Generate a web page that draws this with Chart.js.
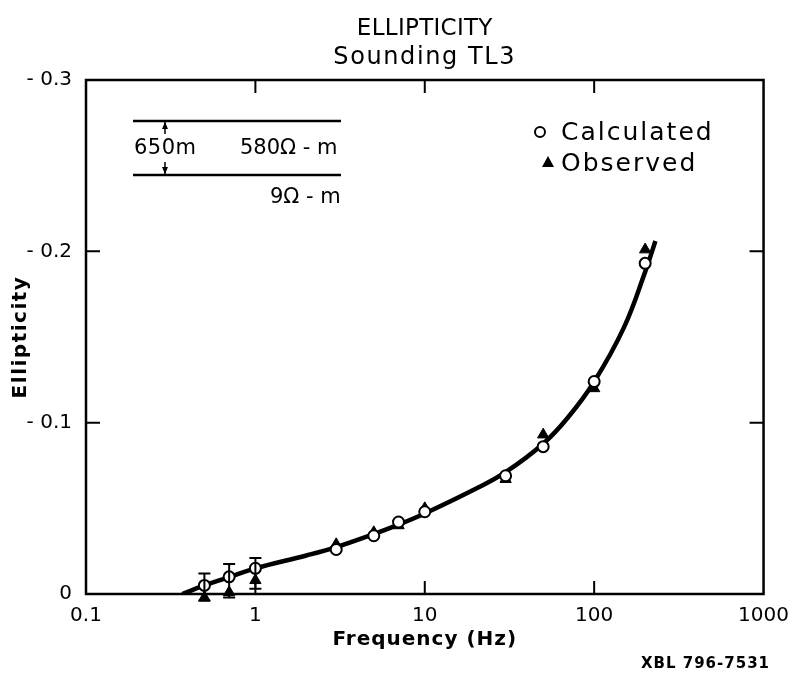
<!DOCTYPE html>
<html>
<head>
<meta charset="utf-8">
<script src="https://cdn.jsdelivr.net/npm/chart.js@4.4.1/dist/chart.umd.min.js"></script>
<style>
  html, body { margin: 0; padding: 0; background: #fff; }
  #wrap { width: 799px; height: 675px; }
</style>
</head>
<body>
<div id="wrap"><canvas id="chart" width="799" height="675"></canvas></div>
<script>
// frequencies in Hz, ellipticity values are negative (axis runs 0 .. -0.3 upward)
var freqs        = [0.5, 0.7, 1, 3, 5, 7, 10, 30, 50, 100, 200];
var calculated   = [-0.005, -0.010, -0.015, -0.026, -0.034, -0.042, -0.048, -0.069, -0.086, -0.124, -0.193];
var observed     = [0.002, -0.001, -0.008, -0.029, -0.036, -0.040, -0.050, -0.067, -0.093, -0.120, -0.201];

// error bars at the low frequencies
var errFreqs     = [0.5, 0.7, 1];
var errTop       = [-0.012, -0.0175, -0.021];
var errBottom    = [0.004, 0.002, -0.003];

// model curve
var curveFreqs   = [0.37, 0.5, 0.7, 1, 2, 3, 5, 7, 10, 20, 30, 50, 70, 100, 150, 200, 230];
var curveValues  = [0, -0.005, -0.0098, -0.015, -0.0225, -0.0274, -0.035, -0.0405, -0.047, -0.0614, -0.0711, -0.0877, -0.103, -0.1239, -0.1556, -0.188, -0.206];

var xTicks = [0.1, 1, 10, 100, 1000];
var yTicks = [0, -0.1, -0.2, -0.3];

var FONT = '"DejaVu Sans", "Liberation Sans", sans-serif';

function pts(xs, ys) {
  return xs.map(function(x, i) { return { x: x, y: ys[i] }; });
}

function spaced(c, text, x, y, spacing) {
  c.letterSpacing = spacing + 'px';
  c.fillText(text, x, y);
  c.letterSpacing = '0px';
}

var framePlugin = {
  id: 'frame',
  afterDatasetsDraw: function(chart) {
    var c = chart.ctx, a = chart.chartArea;
    var xs = chart.scales.x, ys = chart.scales.y;
    c.save();
    c.strokeStyle = '#000';
    c.lineWidth = 2.5;
    c.strokeRect(a.left, a.top, a.right - a.left, a.bottom - a.top);

    // inward ticks
    c.lineWidth = 2;
    xTicks.slice(1, -1).forEach(function(v) {
      var px = xs.getPixelForValue(v);
      c.beginPath();
      c.moveTo(px, a.top); c.lineTo(px, a.top + 13);
      c.moveTo(px, a.bottom); c.lineTo(px, a.bottom - 13);
      c.stroke();
    });
    yTicks.slice(1, -1).forEach(function(v) {
      var py = ys.getPixelForValue(v);
      c.beginPath();
      c.moveTo(a.left, py); c.lineTo(a.left + 14, py);
      c.moveTo(a.right, py); c.lineTo(a.right - 14, py);
      c.stroke();
    });

    // error bars
    c.lineWidth = 2;
    errFreqs.forEach(function(f, i) {
      var px = xs.getPixelForValue(f);
      var t = ys.getPixelForValue(errTop[i]);
      var b = ys.getPixelForValue(errBottom[i]);
      c.beginPath();
      c.moveTo(px, t); c.lineTo(px, b);
      c.moveTo(px - 6, t); c.lineTo(px + 6, t);
      c.moveTo(px - 6, b); c.lineTo(px + 6, b);
      c.stroke();
    });
    c.restore();
  },
  afterDraw: function(chart) {
    var c = chart.ctx, a = chart.chartArea;
    var cx = (a.left + a.right) / 2;
    c.save();
    c.fillStyle = '#000';
    c.strokeStyle = '#000';
    c.textBaseline = 'middle';

    // titles
    c.textAlign = 'center';
    c.font = '23px ' + FONT;
    spaced(c, 'ELLIPTICITY', cx, 29, 0.3);
    c.font = '24px ' + FONT;
    spaced(c, 'Sounding TL3', cx, 58, 1.6);

    // axis titles
    c.font = 'bold 20px ' + FONT;
    spaced(c, 'Frequency (Hz)', cx, 640, 1);
    c.save();
    c.translate(21, 337);
    c.rotate(-Math.PI / 2);
    spaced(c, 'Ellipticity', 0, 0, 1.5);
    c.restore();

    // layered-earth inset
    c.lineWidth = 2.5;
    c.beginPath();
    c.moveTo(133, 121); c.lineTo(341, 121);
    c.moveTo(133, 175); c.lineTo(341, 175);
    c.stroke();
    c.lineWidth = 1.5;
    c.beginPath();
    c.moveTo(165, 122); c.lineTo(165, 134);
    c.moveTo(165, 162); c.lineTo(165, 174);
    c.stroke();
    c.beginPath();
    c.moveTo(165, 122); c.lineTo(162, 129); c.lineTo(168, 129); c.closePath();
    c.moveTo(165, 174); c.lineTo(162, 167); c.lineTo(168, 167); c.closePath();
    c.fill();
    c.textAlign = 'left';
    c.font = '21px ' + FONT;
    spaced(c, '650m', 134, 149, 0.5);
    c.fillText('580\u03A9 - m', 240, 149);
    c.fillText('9\u03A9 - m', 270, 198);

    // legend
    c.font = '25px ' + FONT;
    spaced(c, 'Calculated', 561, 133, 2);
    spaced(c, 'Observed', 561, 164, 2);
    c.lineWidth = 2;
    c.fillStyle = '#fff';
    c.beginPath(); c.arc(540, 132, 5, 0, Math.PI * 2); c.fill(); c.stroke();
    c.fillStyle = '#000';
    c.beginPath();
    c.moveTo(548, 156); c.lineTo(554, 167); c.lineTo(542, 167); c.closePath();
    c.fill();

    // report number
    c.font = 'bold 15px ' + FONT;
    c.textAlign = 'right';
    spaced(c, 'XBL 796-7531', 770, 664, 1);
    c.restore();
  }
};

new Chart(document.getElementById('chart').getContext('2d'), {
  type: 'scatter',
  data: {
    datasets: [
      {
        label: 'Calculated',
        data: pts(freqs, calculated),
        pointStyle: 'circle',
        pointRadius: 5.5,
        pointBackgroundColor: '#fff',
        pointBorderColor: '#000',
        pointBorderWidth: 2,
        order: 0
      },
      {
        label: 'Observed',
        data: pts(freqs, observed),
        pointStyle: 'triangle',
        pointRadius: 6.5,
        pointBackgroundColor: '#000',
        pointBorderColor: '#000',
        pointBorderWidth: 1,
        clip: false,
        order: 1
      },
      {
        label: 'Model',
        type: 'line',
        data: pts(curveFreqs, curveValues),
        borderColor: '#000',
        borderWidth: 4.5,
        pointRadius: 0,
        tension: 0.4,
        fill: false,
        order: 2
      }
    ]
  },
  options: {
    responsive: false,
    animation: false,
    layout: { padding: { top: 80, right: 32, left: 0, bottom: 0 } },
    plugins: { legend: { display: false }, tooltip: { enabled: false }, title: { display: false } },
    scales: {
      x: {
        type: 'logarithmic',
        min: 0.1,
        max: 1000,
        grid: { display: false, drawTicks: false },
        border: { display: false },
        afterFit: function(s) { s.height = 81; },
        afterBuildTicks: function(s) { s.ticks = xTicks.map(function(v) { return { value: v }; }); },
        ticks: {
          autoSkip: false,
          maxRotation: 0,
          padding: 10,
          color: '#000',
          font: { family: FONT, size: 20 },
          callback: function(v) { return String(v); }
        }
      },
      y: {
        reverse: true,
        min: -0.3,
        max: 0,
        grid: { display: false, drawTicks: false },
        border: { display: false },
        afterFit: function(s) { s.width = 86; },
        afterBuildTicks: function(s) { s.ticks = yTicks.map(function(v) { return { value: v }; }); },
        ticks: {
          padding: 14,
          color: '#000',
          font: { family: FONT, size: 20 },
          callback: function(v) { return v === 0 ? '0' : '- ' + Math.abs(v).toFixed(1); }
        }
      }
    }
  },
  plugins: [framePlugin]
});
</script>
</body>
</html>
